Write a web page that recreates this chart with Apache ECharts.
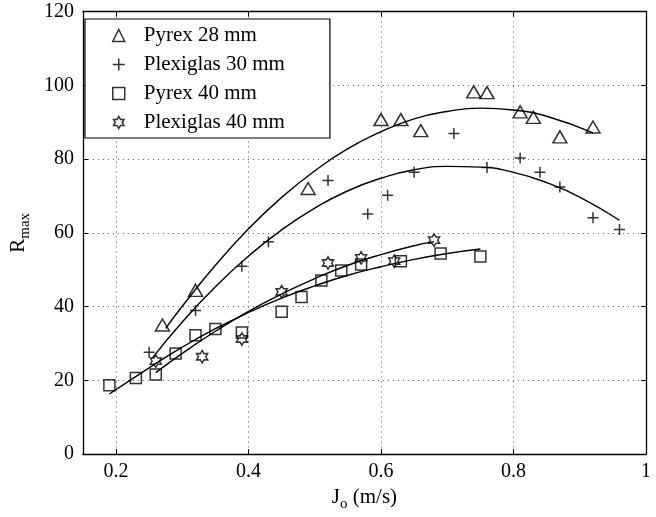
<!DOCTYPE html>
<html>
<head>
<meta charset="utf-8">
<script src="https://cdn.jsdelivr.net/npm/echarts@6/dist/echarts.min.js"></script>
<style>
  html, body { margin: 0; padding: 0; background: #fff; }
  #chart { width: 656px; height: 517px; }
</style>
</head>
<body>
<div id="chart"></div>
<script>
// Axis ranges and tick labels
const xRange = [0.15, 1];
const yRange = [0, 120];
const xTickLabels = [0.2, 0.4, 0.6, 0.8, 1];
const yTickLabels = [0, 20, 40, 60, 80, 100, 120];

// Series names
const seriesNames = ['Pyrex 28 mm', 'Plexiglas 30 mm', 'Pyrex 40 mm', 'Plexiglas 40 mm'];

// Measured points [Jo (m/s), Rmax]
const pyrex28 = [[0.27,35.0],[0.32,44.4],[0.49,72.0],[0.60,90.7],[0.63,90.7],[0.66,87.7],[0.74,98.2],[0.76,98.0],[0.81,92.8],[0.83,91.3],[0.87,86.0],[0.92,88.7]];
const plexi30 = [[0.25,27.6],[0.32,38.9],[0.39,50.9],[0.43,57.6],[0.52,74.2],[0.58,65.1],[0.61,70.2],[0.65,76.4],[0.71,86.9],[0.76,77.7],[0.81,80.3],[0.84,76.4],[0.87,72.4],[0.92,64.1],[0.96,60.9]];
const pyrex40 = [[0.19,18.7],[0.23,20.6],[0.26,21.6],[0.29,27.3],[0.32,32.2],[0.35,33.9],[0.39,33.0],[0.45,38.6],[0.48,42.6],[0.51,47.1],[0.54,49.8],[0.57,51.4],[0.63,52.3],[0.69,54.4],[0.75,53.6]];
const plexi40 = [[0.26,25.2],[0.33,26.4],[0.39,31.2],[0.45,44.0],[0.52,51.8],[0.57,53.2],[0.62,52.3],[0.68,58.0]];

// Trend curves
const pyrex28Fit = [[0.275,34.1],[0.30,40.1],[0.35,51.2],[0.40,61.1],[0.45,69.6],[0.50,76.8],[0.55,82.8],[0.60,87.4],[0.65,90.9],[0.70,92.9],[0.75,93.8],[0.80,93.3],[0.85,91.6],[0.92,87.1]];
const plexi30Fit = [[0.255,26.1],[0.30,35.8],[0.35,45.4],[0.40,53.7],[0.45,60.8],[0.50,66.7],[0.55,71.4],[0.60,74.8],[0.65,77.1],[0.70,78.0],[0.75,77.8],[0.80,76.4],[0.85,73.6],[0.90,69.7],[0.96,63.4]];
const pyrex40Fit = [[0.19,16.3],[0.25,23.4],[0.30,29.0],[0.35,34.0],[0.40,38.4],[0.45,42.3],[0.50,45.6],[0.55,48.5],[0.60,50.8],[0.65,52.8],[0.70,54.4],[0.75,55.6]];
const plexi40Fit = [[0.26,22.1],[0.30,27.3],[0.35,33.3],[0.40,38.7],[0.45,43.4],[0.50,47.6],[0.55,51.2],[0.60,54.1],[0.65,56.5],[0.68,57.6]];

const FONT = '"Liberation Serif", "Times New Roman", serif';
const hexagram = 'path://M10,0L12.89,5L18.66,5L15.77,10L18.66,15L12.89,15L10,20L7.11,15L1.34,15L4.23,10L1.34,5L7.11,5Z';
const plus = 'path://M0,5L10,5M5,0L5,10';

const hollow = { color: 'rgba(0,0,0,0)', borderColor: '#000', borderWidth: 1.5 };

function scatter(name, data, symbol, size) {
  return {
    name, type: 'scatter', data, symbol, symbolSize: size,
    itemStyle: hollow, silent: true, z: 3
  };
}
function curve(data) {
  return {
    type: 'line', data, smooth: true, showSymbol: false, silent: true,
    lineStyle: { color: '#000', width: 1.4 }, z: 2
  };
}

const tickLabelFmt = (list) => (v) => list.some(t => Math.abs(t - v) < 1e-9) ? String(+v.toFixed(2)) : '';

const axisLineStyle = { color: '#000', width: 1.3 };
const gridLineStyle = { color: '#555', width: 1, type: [1, 4] };

const chart = echarts.init(document.getElementById('chart'), null, { renderer: 'canvas' });
chart.setOption({
  animation: false,
  backgroundColor: '#fff',
  grid: { left: 78, right: 10, top: 11.5, bottom: 58, containLabel: false },
  legend: {
    orient: 'vertical', left: 85, top: 19,
    padding: [6, 45, 5, 27],
    itemGap: 8, itemWidth: 12, itemHeight: 12,
    borderColor: '#000', borderWidth: 1.2, backgroundColor: '#fff',
    selectedMode: false,
    textStyle: { fontFamily: FONT, fontSize: 21, color: '#000', lineHeight: 20, padding: [0, 0, 0, 14] },
    data: [
      { name: seriesNames[0], icon: 'triangle', itemStyle: hollow },
      { name: seriesNames[1], icon: plus, itemStyle: hollow },
      { name: seriesNames[2], icon: 'rect', itemStyle: hollow },
      { name: seriesNames[3], icon: hexagram, itemStyle: hollow }
    ]
  },
  xAxis: [{
    type: 'value', min: xRange[0], max: xRange[1], splitNumber: 5,
    position: 'bottom',
    name: '{a|J}{s|o}{a| (m/s)}', nameLocation: 'middle', nameGap: 26,
    nameTextStyle: {
      rich: {
        a: { fontFamily: FONT, fontSize: 21, color: '#000', lineHeight: 20, verticalAlign: 'top' },
        s: { fontFamily: FONT, fontSize: 15, color: '#000', lineHeight: 14, verticalAlign: 'top', padding: [10, 0, 0, 0] }
      }
    },
    axisLine: { show: true, onZero: false, lineStyle: axisLineStyle },
    axisTick: { show: true, inside: true, length: 5, lineStyle: { color: '#000' } },
    axisLabel: { show: true, showMinLabel: false, margin: 8, fontFamily: FONT, fontSize: 20, color: '#000', formatter: tickLabelFmt(xTickLabels) },
    splitLine: { show: true, lineStyle: gridLineStyle }
  }, {
    type: 'value', min: xRange[0], max: xRange[1], splitNumber: 5,
    position: 'top',
    axisLine: { show: true, onZero: false, lineStyle: axisLineStyle },
    axisTick: { show: true, inside: true, length: 5, lineStyle: { color: '#000' } },
    axisLabel: { show: false },
    splitLine: { show: false }
  }],
  yAxis: [{
    type: 'value', min: yRange[0], max: yRange[1], interval: 20,
    position: 'left',
    name: '{a|R}{s|max}', nameLocation: 'middle', nameGap: 41, nameRotate: 90,
    nameTextStyle: {
      rich: {
        a: { fontFamily: FONT, fontSize: 21, color: '#000', lineHeight: 20, verticalAlign: 'top' },
        s: { fontFamily: FONT, fontSize: 15, color: '#000', lineHeight: 14, verticalAlign: 'top', padding: [10, 0, 0, 0] }
      }
    },
    axisLine: { show: true, onZero: false, lineStyle: axisLineStyle },
    axisTick: { show: true, inside: true, length: 5, lineStyle: { color: '#000' } },
    axisLabel: { show: true, margin: 9, fontFamily: FONT, fontSize: 20, color: '#000', formatter: tickLabelFmt(yTickLabels) },
    splitLine: { show: true, lineStyle: gridLineStyle }
  }, {
    type: 'value', min: yRange[0], max: yRange[1], interval: 20,
    position: 'right',
    axisLine: { show: true, onZero: false, lineStyle: axisLineStyle },
    axisTick: { show: true, inside: true, length: 5, lineStyle: { color: '#000' } },
    axisLabel: { show: false },
    splitLine: { show: false }
  }],
  series: [
    scatter(seriesNames[0], pyrex28, 'triangle', [14, 12]),
    scatter(seriesNames[1], plexi30, plus, [11, 11]),
    scatter(seriesNames[2], pyrex40, 'rect', [11, 11]),
    scatter(seriesNames[3], plexi40, hexagram, [11, 12.5]),
    curve(pyrex28Fit),
    curve(plexi30Fit),
    curve(pyrex40Fit),
    curve(plexi40Fit)
  ]
});
</script>
</body>
</html>
